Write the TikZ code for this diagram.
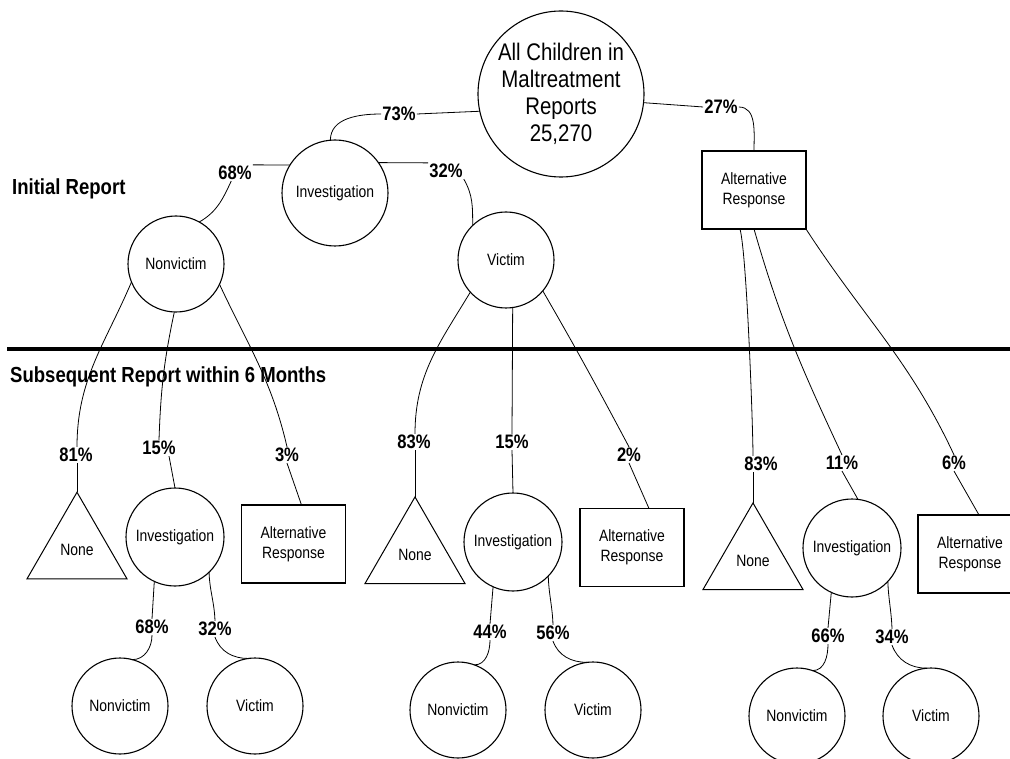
\documentclass[tikz,border=0pt]{standalone}
\usepackage{fontspec}
\setmainfont{Liberation Sans}[FakeStretch=0.85]
\usetikzlibrary{shapes.geometric}

\newcommand\nodefont{\fontsize{16.4}{20}\selectfont}
\newcommand\rootfont{\fontsize{24}{27}\selectfont}
\newcommand\pctfont{\fontsize{19.5}{22}\selectfont\bfseries}
\newcommand\headfont{\fontsize{21.8}{24}\selectfont\bfseries}

\tikzset{
  circ/.style={circle,draw,line width=1.1pt,inner sep=0pt,outer sep=0pt,minimum size=96pt,font=\nodefont},
  bigcirc/.style={circ,minimum size=166pt,align=center,font=\rootfont},
  resp/.style={rectangle,draw,line width=1.1pt,inner sep=0pt,outer sep=0pt,minimum width=104pt,minimum height=78pt,align=center,font=\nodefont},
  nonetri/.style={regular polygon,regular polygon sides=3,draw,line width=1pt,inner sep=0pt,outer sep=0pt,minimum size=115.5pt,font=\nodefont},
  pct/.style={inner sep=1pt,font=\pctfont},
  heading/.style={anchor=base west,inner sep=0pt,font=\headfont},
  link/.style={line width=0.8pt}
}

\begin{document}
\begin{tikzpicture}[x=1pt,y=-1pt]
  \useasboundingbox (0,0) rectangle (1010,759);
  % initial report
  \path
    (561,94) node[bigcirc] (all) {All Children in\\Maltreatment\\Reports\\25,270}
    (335,193) node[circ,minimum size=106pt] (inv) {Investigation}
    (176,264) node[circ] (nv) {Nonvictim}
    (506,260) node[circ] (vic) {Victim}
    (754,190) node[resp] (alt) {Alternative\\Response}
    (399,114) node[pct] (p73) {73\%}
    (721,107) node[pct] (p27) {27\%}
    (235,173) node[pct] (p68) {68\%}
    (446,171) node[pct] (p32) {32\%}
    (12,195) node[heading] (initial) {Initial Report}
    (10,383) node[heading] (subseq) {Subsequent Report within 6 Months};
  \draw[line width=3.5pt] (7,349) -- (1015,349);
  % subsequent report, after nonvictim
  \path
    (77,550) node[nonetri] (nvNone) {None}
    (175,537) node[circ,minimum size=98pt] (nvInv) {Investigation}
    (293.5,544) node[resp] (nvAlt) {Alternative\\Response}
    (120,706) node[circ] (nvInvNv) {Nonvictim}
    (255,706) node[circ] (nvInvVic) {Victim}
    (76,455) node[pct] (nvP81) {81\%}
    (159,448) node[pct] (nvP15) {15\%}
    (287,455) node[pct] (nvP3) {3\%}
    (152,627) node[pct] (nvInvP68) {68\%}
    (215,629) node[pct] (nvInvP32) {32\%};
  % subsequent report, after victim
  \path
    (415,554.7) node[nonetri] (vicNone) {None}
    (513,542) node[circ,minimum size=98pt] (vicInv) {Investigation}
    (632,547.5) node[resp] (vicAlt) {Alternative\\Response}
    (458,710) node[circ] (vicInvNv) {Nonvictim}
    (593,710) node[circ] (vicInvVic) {Victim}
    (414,442) node[pct] (vicP83) {83\%}
    (512,442) node[pct] (vicP15) {15\%}
    (629,455) node[pct] (vicP2) {2\%}
    (490,632) node[pct] (vicInvP44) {44\%}
    (553,633) node[pct] (vicInvP56) {56\%};
  % subsequent report, after alternative response
  \path
    (753,560.7) node[nonetri] (altNone) {None}
    (852,548) node[circ,minimum size=98pt] (altInv) {Investigation}
    (970,554) node[resp] (altAlt) {Alternative\\Response}
    (797,716) node[circ] (altInvNv) {Nonvictim}
    (931,716) node[circ] (altInvVic) {Victim}
    (761,464) node[pct] (altP83) {83\%}
    (842,463) node[pct] (altP11) {11\%}
    (954,463) node[pct] (altP6) {6\%}
    (828,636) node[pct] (altInvP66) {66\%}
    (892,637) node[pct] (altInvP34) {34\%};
  \begin{scope}[link]
    \draw (all.192) -- (p73.east);
    \draw (p73.west) to[out=180,in=90] (inv.95);
    \draw (all.-6) -- (p27.west);
    \draw (p27.east) to[out=0,in=90] (alt.north);
    \draw (inv.148) -- (p68.north east);
    \draw (p68.-115) to[out=-115,in=30] (nv.61);
    \draw (inv.35) -- (p32.north west);
    \draw (p32.south east) to[out=-60,in=90] (vic.134);
    % from nonvictim
    \draw (nv.-158) to[out=-113,in=90] (nvP81.north -| nvNone.corner 1);
    \draw (nvP81.south -| nvNone.corner 1) -- (nvNone.corner 1);
    \draw (nv.-92) to[out=-102,in=88] (nvP15.north);
    \draw ([xshift=10pt]nvP15.south) -- (nvInv.north);
    \draw (nv.-25) to[out=-65,in=103] (nvP3.north);
    \draw (nvP3.south) -- ([xshift=8pt]nvAlt.north);
    \draw (nvInv.-115) -- (nvInvP68.north);
    \draw (nvInvP68.south) to[out=-90,in=0] (nvInvNv.75);
    \draw (nvInv.-46) to[out=-88,in=92] (nvInvP32.north);
    \draw (nvInvP32.south) to[out=-70,in=180] (nvInvVic.98);
    % from victim
    \draw (vic.-138) to[out=-121,in=90] (vicP83.north -| vicNone.corner 1);
    \draw (vicP83.south -| vicNone.corner 1) -- (vicNone.corner 1);
    \draw (vic.-82) -- (vicP15.north);
    \draw (vicP15.south) -- (vicInv.north);
    \draw (vic.-40) to[out=-60,in=118] (vicP2.north);
    \draw (vicP2.south) -- ([xshift=17pt]vicAlt.north);
    \draw (vicInv.-114) -- (vicInvP44.north);
    \draw (vicInvP44.south) to[out=-90,in=0] (vicInvNv.70);
    \draw (vicInv.-44) to[out=-88,in=92] (vicInvP56.north);
    \draw (vicInvP56.south) to[out=-70,in=180] (vicInvVic.97);
    % from alternative response
    \draw ([xshift=-14pt]alt.south) to[out=-75,in=90,looseness=0.3] (altP83.north -| altNone.corner 1);
    \draw (altP83.south -| altNone.corner 1) -- (altNone.corner 1);
    \draw (alt.south) to[out=-74,in=115] (altP11.north);
    \draw (altP11.south) -- (altInv.83);
    \draw (alt.south east) to[out=-57,in=115] (altP6.north);
    \draw (altP6.south) -- ([xshift=9pt]altAlt.north);
    \draw (altInv.-115) -- (altInvP66.north);
    \draw (altInvP66.south) to[out=-90,in=0] (altInvNv.71);
    \draw (altInv.-43) to[out=-88,in=92] (altInvP34.north);
    \draw (altInvP34.south) to[out=-70,in=180] (altInvVic.95);
  \end{scope}
\end{tikzpicture}
\end{document}
